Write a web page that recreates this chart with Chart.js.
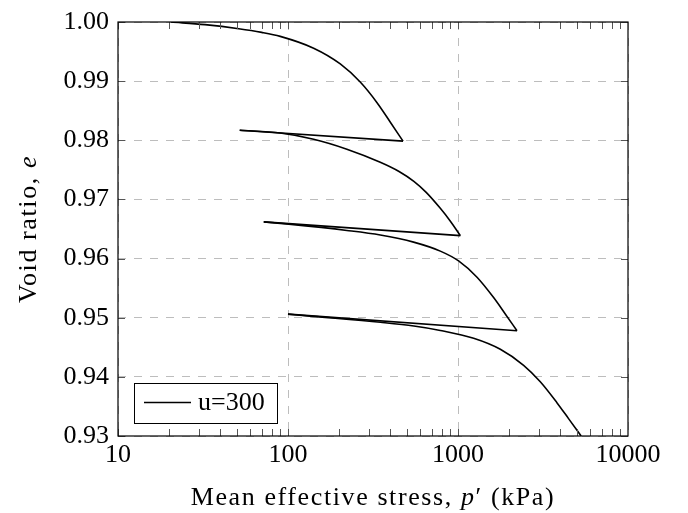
<!DOCTYPE html>
<html>
<head>
<meta charset="utf-8">
<script src="https://cdn.jsdelivr.net/npm/chart.js@4.4.1/dist/chart.umd.min.js"></script>
<style>
  html, body { margin: 0; padding: 0; background: #fff; }
  #chart { display: block; }
</style>
</head>
<body>
<canvas id="chart" width="688" height="513"></canvas>
<script>
// first loading, then three unload/reload loops
// (each unloading is the straight run from the end of one branch to the start of the next)
const loadP = [20.5, 32.5, 51.3, 70, 90, 141.5, 203, 266, 334, 400, 475];
const loadE = [1.0000, 0.99955, 0.99887, 0.99825, 0.99757, 0.99557, 0.99291, 0.98985, 0.98636, 0.98306, 0.97985];

const reload1P = [52, 90, 141.5, 222, 349, 450, 550, 650, 787, 902, 1032];
const reload1E = [0.9817, 0.98123, 0.98018, 0.97850, 0.97629, 0.97473, 0.97306, 0.97120, 0.96850, 0.96632, 0.96388];

const reload2P = [72, 101, 222, 349, 548, 787, 1008, 1294, 1620, 1897, 2223];
const reload2E = [0.9662, 0.96582, 0.96476, 0.96399, 0.96278, 0.96126, 0.95960, 0.95684, 0.95340, 0.95063, 0.9478];

const reload3P = [100, 140, 350, 550, 787, 1236, 1774, 2432, 3048, 3818, 4481, 5300];
const reload3E = [0.9506, 0.95023, 0.94922, 0.94860, 0.94785, 0.94652, 0.94466, 0.94195, 0.93917, 0.93564, 0.93290, 0.9300];

const xTicks = [10, 100, 1000, 10000];
const yTicks = [0.93, 0.94, 0.95, 0.96, 0.97, 0.98, 0.99, 1.00];
const seriesLabel = 'u=300';

const serif = '"Liberation Serif", "DejaVu Serif", serif';
const gridColor = '#bdbdbd';

const branches = [[loadP, loadE], [reload1P, reload1E], [reload2P, reload2E], [reload3P, reload3E]]
    .map(([ps, es]) => ps.map((p, i) => ({ x: p, y: es[i] })));

const lineStyle = {
    showLine: true,
    borderColor: '#000',
    borderWidth: 1.6,
    pointRadius: 0,
    fill: false
};

const datasets = [];
branches.forEach((pts, i) => {
    datasets.push({ ...lineStyle, label: seriesLabel, data: pts, cubicInterpolationMode: 'monotone' });
    if (i < branches.length - 1) {
        // straight unloading from the branch end back to the next start
        datasets.push({ ...lineStyle, label: seriesLabel, data: [pts[pts.length - 1], branches[i + 1][0]], tension: 0 });
    }
});

function drawParts(ctx, parts, x, y) {
    let total = 0;
    parts.forEach(p => {
        ctx.font = p.font;
        p.w = ctx.measureText(p.text).width;
        total += p.w;
    });
    let cx = x - total / 2;
    parts.forEach(p => {
        ctx.font = p.font;
        ctx.fillText(p.text, cx, y);
        cx += p.w;
    });
}

// frame, inward ticks, legend box and axis titles
const framePlugin = {
    id: 'frame',
    afterDatasetsDraw(chart) {
        const ctx = chart.ctx;
        const { left, right, top, bottom } = chart.chartArea;
        const xs = chart.scales.x, ys = chart.scales.y;
        ctx.save();

        ctx.strokeStyle = '#555';
        ctx.lineWidth = 1;
        ctx.beginPath();
        for (let dec = 10; dec < 10000; dec *= 10) {
            for (let m = 1; m <= 9; m++) {
                const px = Math.round(xs.getPixelForValue(m * dec)) + 0.5;
                ctx.moveTo(px, bottom); ctx.lineTo(px, bottom - 7);
                ctx.moveTo(px, top); ctx.lineTo(px, top + 7);
            }
        }
        yTicks.forEach(v => {
            const py = Math.round(ys.getPixelForValue(v)) + 0.5;
            ctx.moveTo(left, py); ctx.lineTo(left + 7, py);
            ctx.moveTo(right, py); ctx.lineTo(right - 7, py);
        });
        ctx.stroke();

        ctx.strokeStyle = '#000';
        ctx.lineWidth = 1.2;
        ctx.strokeRect(left, top, right - left, bottom - top);

        // legend
        ctx.fillStyle = '#fff';
        ctx.fillRect(134.5, 383.5, 143, 40);
        ctx.lineWidth = 1;
        ctx.strokeRect(134.5, 383.5, 143, 40);
        ctx.lineWidth = 1.6;
        ctx.beginPath();
        ctx.moveTo(144, 402.5); ctx.lineTo(191, 402.5);
        ctx.stroke();
        ctx.fillStyle = '#000';
        ctx.font = '26px ' + serif;
        ctx.textAlign = 'left';
        ctx.textBaseline = 'middle';
        ctx.fillText(seriesLabel, 198, 403);

        // axis titles
        ctx.textBaseline = 'alphabetic';
        ctx.letterSpacing = '1.6px';
        drawParts(ctx, [
            { text: 'Mean effective stress, ', font: '26px ' + serif },
            { text: 'p', font: 'italic 26px ' + serif },
            { text: '\u2032 (kPa)', font: '26px ' + serif }
        ], (left + right) / 2, 505);

        ctx.translate(36, (top + bottom) / 2);
        ctx.rotate(-Math.PI / 2);
        drawParts(ctx, [
            { text: 'Void ratio, ', font: '26px ' + serif },
            { text: 'e', font: 'italic 26px ' + serif }
        ], 0, 0);

        ctx.restore();
    }
};

new Chart(document.getElementById('chart'), {
    type: 'scatter',
    data: { datasets: datasets },
    options: {
        responsive: false,
        animation: false,
        layout: { padding: { left: 0, right: 60, top: 16, bottom: 0 } },
        plugins: {
            legend: { display: false },
            tooltip: { enabled: false }
        },
        scales: {
            x: {
                type: 'logarithmic',
                min: 10,
                max: 10000,
                afterBuildTicks: s => { s.ticks = xTicks.map(v => ({ value: v })); },
                afterFit: s => { s.height = 77; },
                grid: { color: gridColor, lineWidth: 1, drawTicks: false },
                border: { display: false, dash: [8, 8] },
                ticks: {
                    color: '#000',
                    font: { family: serif, size: 26, lineHeight: 1 },
                    padding: 6,
                    maxRotation: 0,
                    autoSkip: false,
                    callback: v => String(v)
                }
            },
            y: {
                type: 'linear',
                min: 0.93,
                max: 1.0,
                afterBuildTicks: s => { s.ticks = yTicks.map(v => ({ value: v })); },
                afterFit: s => { s.width = 118; },
                grid: { color: gridColor, lineWidth: 1, drawTicks: false },
                border: { display: false, dash: [8, 8] },
                ticks: {
                    color: '#000',
                    font: { family: serif, size: 26, lineHeight: 1 },
                    padding: 9,
                    autoSkip: false,
                    callback: v => Number(v).toFixed(2)
                }
            }
        }
    },
    plugins: [framePlugin]
});
</script>
</body>
</html>
